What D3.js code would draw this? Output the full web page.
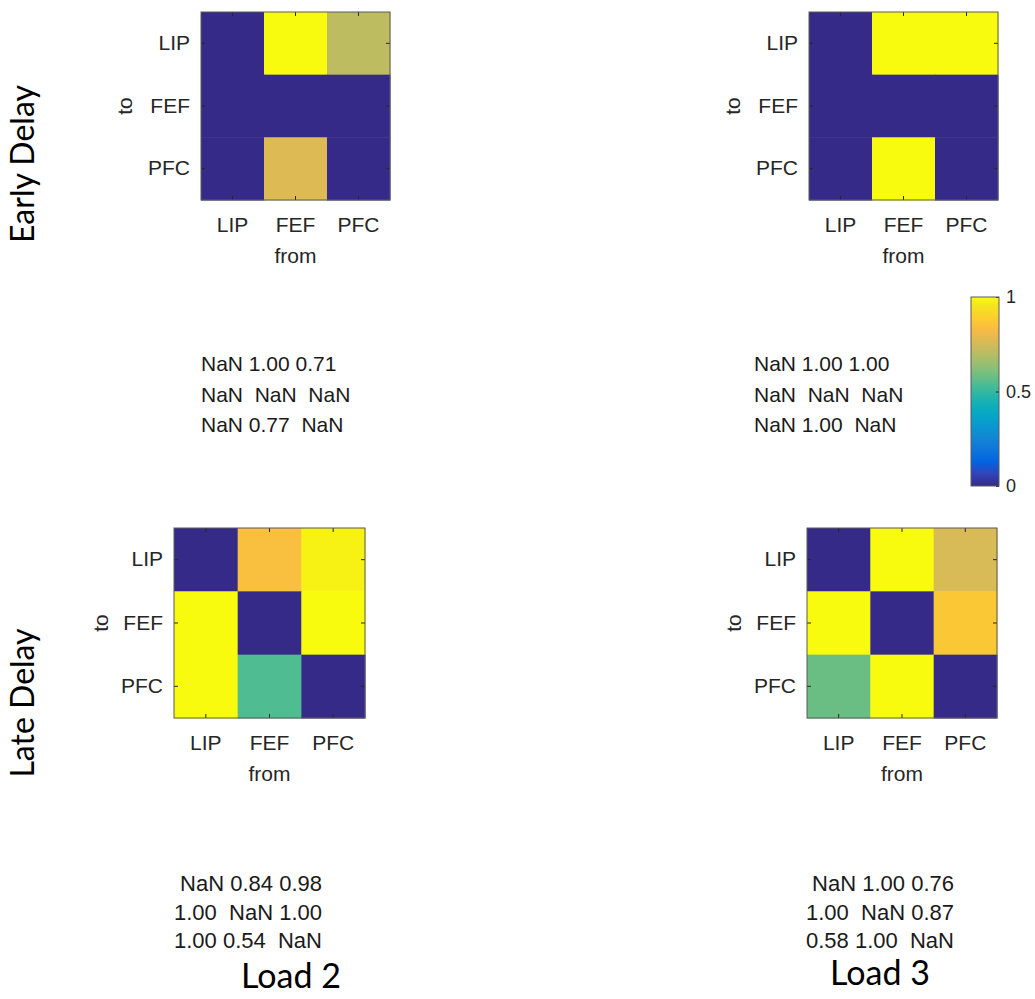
<!DOCTYPE html>
<html>
<head>
<meta charset="utf-8">
<script src="https://cdn.jsdelivr.net/npm/d3@7"></script>
<style>
  html, body { margin: 0; padding: 0; background: #fff; }
  svg { display: block; }
  .mtx { white-space: pre; }
</style>
</head>
<body>
<svg id="chart" width="1035" height="999"></svg>
<script>
// Regions, in the order used for both axes ("to" rows, "from" columns)
const regions = ["LIP", "FEF", "PFC"];

// Connectivity matrices (rows = to, columns = from); NaN on the diagonal / missing links
const earlyLoad2 = [
  [NaN, 1.00, 0.71],
  [NaN, NaN, NaN],
  [NaN, 0.77, NaN]
];
const earlyLoad3 = [
  [NaN, 1.00, 1.00],
  [NaN, NaN, NaN],
  [NaN, 1.00, NaN]
];
const lateLoad2 = [
  [NaN, 0.84, 0.98],
  [1.00, NaN, 1.00],
  [1.00, 0.54, NaN]
];
const lateLoad3 = [
  [NaN, 1.00, 0.76],
  [1.00, NaN, 0.87],
  [0.58, 1.00, NaN]
];

const colorbarTicks = [0, 0.5, 1];
const colorbarTickLabels = ["0", "0.5", "1"];
const rowTitles = ["Early Delay", "Late Delay"];
const colTitles = ["Load 2", "Load 3"];

// Parula colour map (every 4th entry of the 64-step table)
const parulaStops = ["#352a87", "#3243ba", "#0363e1", "#0d75dc", "#1485d4", "#0998d1",
  "#06a7c6", "#15b1b4", "#38b99e", "#65be86", "#92bf73", "#b7bd64", "#d9ba56",
  "#f8ba44", "#fcce2e", "#f5e41d", "#f9fb0e"];
const parulaPos = [0, 4, 8, 12, 16, 20, 24, 28, 32, 36, 40, 44, 48, 52, 56, 60, 63].map(i => i / 63);
const color = d3.scaleLinear().domain(parulaPos).range(parulaStops)
  .interpolate(d3.interpolateRgb).clamp(true);

const svg = d3.select("#chart");
const tickFont = "'Liberation Sans', Arial, Helvetica, sans-serif";
const titleFont = "Lato, 'Open Sans', sans-serif";
const ink = "#262626";

// Panel placement
const panels = [
  { data: earlyLoad2, x: 201, y: 12, w: 189, h: 188, toOff: 76, tx: 201, ty: 371, lh: 30.5, fs: 21 },
  { data: earlyLoad3, x: 809, y: 12, w: 189, h: 188, toOff: 76, tx: 754, ty: 371, lh: 30.5, fs: 21 },
  { data: lateLoad2,  x: 174, y: 528, w: 191, h: 190, toOff: 73, tx: 174, ty: 891, lh: 28.5, fs: 22 },
  { data: lateLoad3,  x: 807, y: 528, w: 190, h: 190, toOff: 73, tx: 806, ty: 891, lh: 28.5, fs: 22 }
];

function matrixLines(m) {
  const rows = m.map(r => r.map(v => (isNaN(v) ? "NaN" : v.toFixed(2)).padStart(4)).join(" "));
  const lead = d3.min(rows, s => s.length - s.trimStart().length);
  return rows.map(s => s.slice(lead));
}

panels.forEach(p => {
  const xs = d3.scaleBand().domain(regions).range([p.x, p.x + p.w]);
  const ys = d3.scaleBand().domain(regions).range([p.y, p.y + p.h]);
  const g = svg.append("g");

  const cells = [];
  p.data.forEach((row, i) => row.forEach((v, j) => cells.push({ to: regions[i], from: regions[j], v })));

  g.selectAll("rect.cell").data(cells).join("rect")
    .attr("class", "cell")
    .attr("x", d => xs(d.from))
    .attr("y", d => ys(d.to))
    .attr("width", xs.bandwidth() + 0.5)
    .attr("height", ys.bandwidth() + 0.5)
    .attr("fill", d => color(isNaN(d.v) ? 0 : d.v));

  // Axes with inward ticks on all four sides
  const axL = g.append("g").attr("transform", `translate(${p.x},0)`)
    .call(d3.axisLeft(ys).tickSizeInner(-4).tickSizeOuter(0).tickPadding(11));
  const axB = g.append("g").attr("transform", `translate(0,${p.y + p.h})`)
    .call(d3.axisBottom(xs).tickSizeInner(-4).tickSizeOuter(0).tickPadding(17));
  const axR = g.append("g").attr("transform", `translate(${p.x + p.w},0)`)
    .call(d3.axisRight(ys).tickSizeInner(-4).tickSizeOuter(0).tickFormat(""));
  const axT = g.append("g").attr("transform", `translate(0,${p.y})`)
    .call(d3.axisTop(xs).tickSizeInner(-4).tickSizeOuter(0).tickFormat(""));
  [axL, axB, axR, axT].forEach(a => {
    a.select(".domain").remove();
    a.selectAll("line").attr("stroke", ink).attr("stroke-width", 1);
    a.selectAll("text").attr("fill", ink).style("font-family", tickFont).style("font-size", "21px");
  });

  g.append("rect")
    .attr("x", p.x).attr("y", p.y).attr("width", p.w).attr("height", p.h)
    .attr("fill", "none").attr("stroke", "#5a5a5a").attr("stroke-width", 1);

  g.append("text")
    .attr("x", p.x + p.w / 2).attr("y", p.y + p.h + 63)
    .attr("text-anchor", "middle").attr("fill", ink)
    .style("font-family", tickFont).style("font-size", "21px")
    .text("from");

  g.append("text")
    .attr("transform", `translate(${p.x - p.toOff + 7},${p.y + p.h / 2}) rotate(-90)`)
    .attr("text-anchor", "middle").attr("fill", ink)
    .style("font-family", tickFont).style("font-size", "21px")
    .text("to");

  // Matrix printout below the panel
  svg.append("g").selectAll("text").data(matrixLines(p.data)).join("text")
    .attr("class", "mtx")
    .attr("xml:space", "preserve")
    .attr("x", p.tx)
    .attr("y", (d, i) => p.ty + i * p.lh)
    .attr("fill", "#1a1a1a")
    .style("font-family", tickFont).style("font-size", p.fs + "px")
    .text(d => d);
});

// Colour bar
const cb = { x: 971, y: 297, w: 28, h: 189 };
const cbScale = d3.scaleLinear().domain([0, 1]).range([cb.y + cb.h, cb.y]);
const grad = svg.append("defs").append("linearGradient")
  .attr("id", "parula").attr("x1", 0).attr("y1", 1).attr("x2", 0).attr("y2", 0);
grad.selectAll("stop").data(parulaPos).join("stop")
  .attr("offset", d => d)
  .attr("stop-color", (d, i) => parulaStops[i]);
svg.append("rect")
  .attr("x", cb.x).attr("y", cb.y).attr("width", cb.w).attr("height", cb.h)
  .attr("fill", "url(#parula)");
const cbAxis = svg.append("g").attr("transform", `translate(${cb.x + cb.w},0)`)
  .call(d3.axisRight(cbScale).tickValues(colorbarTicks)
    .tickFormat((d, i) => colorbarTickLabels[i])
    .tickSizeInner(-3).tickSizeOuter(0).tickPadding(7));
cbAxis.select(".domain").remove();
cbAxis.selectAll("line").attr("stroke", ink);
cbAxis.selectAll("text").attr("fill", ink).style("font-family", tickFont).style("font-size", "18px");
svg.append("rect")
  .attr("x", cb.x).attr("y", cb.y).attr("width", cb.w).attr("height", cb.h)
  .attr("fill", "none").attr("stroke", "#5a5a5a").attr("stroke-width", 1);

// Row and column titles
const rowCenters = [164, 703];
svg.selectAll("text.rowtitle").data(rowTitles).join("text")
  .attr("class", "rowtitle")
  .attr("transform", (d, i) => `translate(34,${rowCenters[i]}) rotate(-90)`)
  .attr("text-anchor", "middle").attr("fill", "#000")
  .style("font-family", titleFont).style("font-size", "32px")
  .text(d => d);

const colPos = [{ x: 291, y: 988 }, { x: 880, y: 985 }];
svg.selectAll("text.coltitle").data(colTitles).join("text")
  .attr("class", "coltitle")
  .attr("x", (d, i) => colPos[i].x).attr("y", (d, i) => colPos[i].y)
  .attr("text-anchor", "middle").attr("fill", "#000")
  .style("font-family", titleFont).style("font-size", "34px")
  .text(d => d);
</script>
</body>
</html>
